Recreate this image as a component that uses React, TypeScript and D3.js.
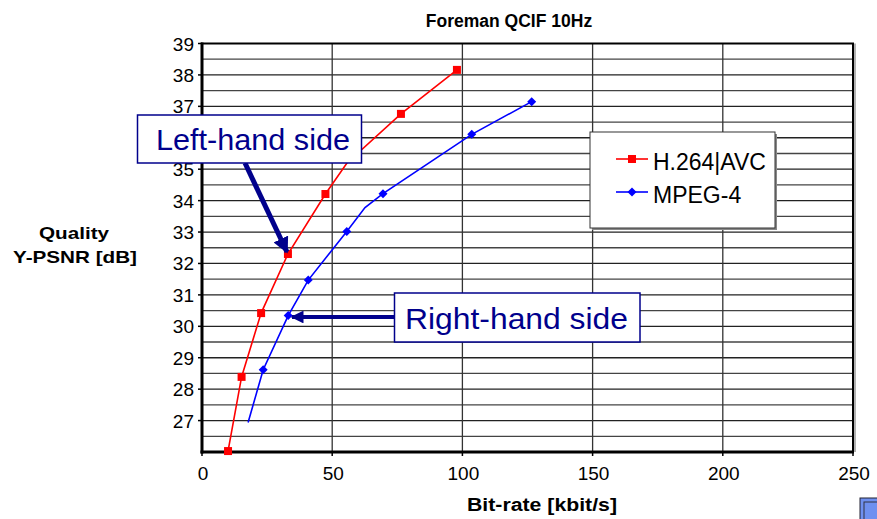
import React from "react";
import * as d3 from "d3";

const title = "Foreman QCIF 10Hz";
const xTicks = [0, 50, 100, 150, 200, 250];
const yTicks = [27, 28, 29, 30, 31, 32, 33, 34, 35, 36, 37, 38, 39];

const h264Rate = [10.0, 15.2, 22.7, 33.0, 47.4, 55.6, 76.4, 97.9];
const h264Psnr = [26.03, 28.39, 30.42, 32.3, 34.21, 35.19, 36.76, 38.16];
const h264Marker = [true, true, true, true, true, false, true, true];

const mpegRate = [17.7, 23.5, 33.1, 40.8, 55.6, 62.6, 69.5, 103.6, 126.6];
const mpegPsnr = [26.94, 28.62, 30.34, 31.47, 33.02, 33.78, 34.22, 36.11, 37.15];
const mpegMarker = [false, true, true, true, true, false, true, true, true];

const legendLabels = ["H.264|AVC", "MPEG-4"];

const W = 877, H = 519;
const L = 202, R = 853, T = 43.5, B = 452;
const NAVY = "#00008c";

export default function App() {
  const x = d3.scaleLinear().domain([0, 250]).range([L, R]);
  const y = d3.scaleLinear().domain([26, 39]).range([B, T]);
  const line = d3.line<[number, number]>().x(d => x(d[0])).y(d => y(d[1]));
  const h264 = h264Rate.map((r, i) => [r, h264Psnr[i]] as [number, number]);
  const mpeg = mpegRate.map((r, i) => [r, mpegPsnr[i]] as [number, number]);
  const hGrid = d3.range(26.5, 39, 0.5);
  const vGrid = [50, 100, 150, 200];
  const font = "'Liberation Sans', Arial, sans-serif";

  const diamond = (cx: number, cy: number, s: number) =>
    `M${cx},${cy - s}L${cx + s},${cy}L${cx},${cy + s}L${cx - s},${cy}Z`;

  return (
    <svg width={W} height={H} style={{ position: "absolute", left: 0, top: 0, background: "#fff" }} fontFamily={font}>
      <defs>
        <marker id="ah" viewBox="0 0 10 10" refX="9" refY="5" markerWidth="3.2" markerHeight="3.2" orient="auto" markerUnits="strokeWidth">
          <path d="M0,0L10,5L0,10Z" fill={NAVY} />
        </marker>
      </defs>
      <rect width={W} height={H} fill="#fff" />
      <text x={509} y={27} textAnchor="middle" fontWeight="bold" fontSize={17.5}>{title}</text>

      {/* grid */}
      {hGrid.map(v => (
        <line key={"h" + v} x1={L} x2={R} y1={y(v)} y2={y(v)} stroke={Number.isInteger(v) ? "#222" : "#444"} strokeWidth={1.3} />
      ))}
      {vGrid.map(v => (
        <line key={"v" + v} x1={x(v)} x2={x(v)} y1={T} y2={B} stroke="#333" strokeWidth={1.3} />
      ))}
      {/* frame shadow */}
      <line x1={R + 2} x2={R + 2} y1={T} y2={B} stroke="#999" strokeWidth={1.5} />
      <rect x={L} y={T} width={R - L} height={B - T} fill="none" stroke="#000" strokeWidth={2} />
      <line x1={L} x2={L} y1={T - 1} y2={B + 1.5} stroke="#000" strokeWidth={3} />
      <line x1={L - 1.5} x2={R + 1} y1={B} y2={B} stroke="#000" strokeWidth={3} />

      {/* ticks */}
      {yTicks.map(t => (
        <g key={"yt" + t}>
          <line x1={L - 4} x2={L} y1={y(t)} y2={y(t)} stroke="#000" strokeWidth={1.5} />
          <text x={194} y={y(t) + 7} textAnchor="end" fontSize={19}>{t}</text>
        </g>
      ))}
      {xTicks.map(t => (
        <g key={"xt" + t}>
          <line x1={x(t)} x2={x(t)} y1={B} y2={B + 4} stroke="#000" strokeWidth={1.5} />
          <text x={x(t) + 1} y={480} textAnchor="middle" fontSize={19}>{t}</text>
        </g>
      ))}

      {/* axis titles */}
      <text x={542} y={511} textAnchor="middle" fontWeight="bold" fontSize={17.5} textLength={150} lengthAdjust="spacingAndGlyphs">Bit-rate [kbit/s]</text>
      <text x={74} y={239} textAnchor="middle" fontWeight="bold" fontSize={17} textLength={70} lengthAdjust="spacingAndGlyphs">Quality</text>
      <text x={75} y={263} textAnchor="middle" fontWeight="bold" fontSize={17} textLength={124} lengthAdjust="spacingAndGlyphs">Y-PSNR [dB]</text>

      {/* series */}
      <path d={line(mpeg) || ""} fill="none" stroke="#0000ff" strokeWidth={1.6} />
      {mpeg.map((d, i) => mpegMarker[i] ? <path key={"m" + i} d={diamond(x(d[0]), y(d[1]), 4.5)} fill="#0000ff" /> : null)}
      <path d={line(h264) || ""} fill="none" stroke="#ff0000" strokeWidth={1.6} />
      {h264.map((d, i) => h264Marker[i] ? <rect key={"h" + i} x={x(d[0]) - 4} y={y(d[1]) - 4} width={8} height={8} fill="#ff0000" /> : null)}

      {/* legend */}
      <rect x={592} y={134} width={185} height={96} fill="#888" />
      <rect x={590} y={132} width={185} height={96} fill="#fff" stroke="#333" strokeWidth={1} />
      <line x1={616} x2={648} y1={159} y2={159} stroke="#ff0000" strokeWidth={1.6} />
      <rect x={628} y={155} width={8} height={8} fill="#ff0000" />
      <text x={653} y={170} fontSize={23}>{legendLabels[0]}</text>
      <line x1={616} x2={648} y1={192} y2={192} stroke="#0000ff" strokeWidth={1.6} />
      <path d={diamond(632, 192, 4.5)} fill="#0000ff" />
      <text x={653} y={203} fontSize={23}>{legendLabels[1]}</text>

      {/* annotations */}
      <line x1={245} y1={163} x2={287} y2={252} stroke={NAVY} strokeWidth={5} markerEnd="url(#ah)" />
      <rect x={137.5} y={115} width={224} height={48} fill="#fff" stroke={NAVY} strokeWidth={1.5} />
      <text x={156} y={150} fontSize={30} fill={NAVY} textLength={194} lengthAdjust="spacingAndGlyphs">Left-hand side</text>

      <line x1={394} y1={317} x2={292} y2={317} stroke={NAVY} strokeWidth={4} markerEnd="url(#ah)" />
      <rect x={394.5} y={293} width={245.5} height={49} fill="#fff" stroke={NAVY} strokeWidth={1.5} />
      <text x={405} y={329} fontSize={30} fill={NAVY} textLength={223} lengthAdjust="spacingAndGlyphs">Right-hand side</text>

      {/* corner icon */}
      <rect x={860} y={498} width={30} height={30} fill="#6f90f0" stroke="#223" strokeWidth={1} />
      <rect x={864} y={502} width={20} height={20} fill="none" stroke="#334" strokeWidth={1} />
    </svg>
  );
}
